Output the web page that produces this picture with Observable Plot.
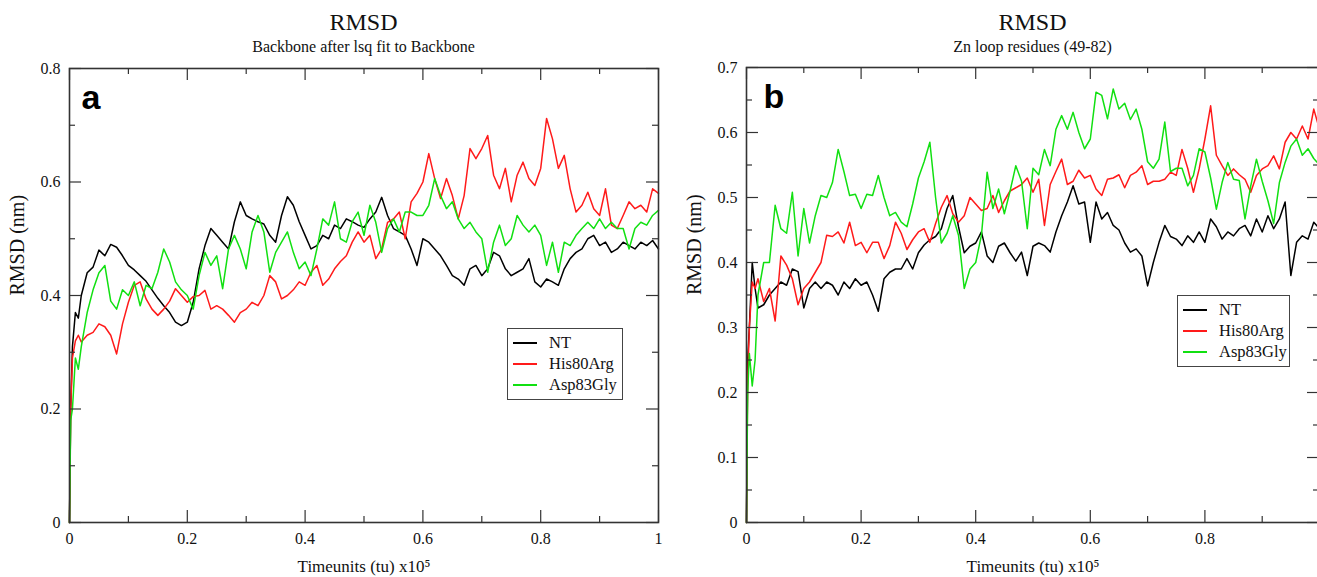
<!DOCTYPE html>
<html><head><meta charset="utf-8">
<script src="https://cdn.jsdelivr.net/npm/d3@7"></script>
<script src="https://cdn.jsdelivr.net/npm/@observablehq/plot@0.6"></script>
<style>
html,body{margin:0;padding:0;background:#fff;overflow:hidden;width:1317px;height:577px}
#root{position:relative;width:1317px;height:577px;overflow:hidden;font-family:"Liberation Serif","Times New Roman",serif;color:#111}
.panel{position:absolute;top:0}
.panel svg{max-width:none !important}
.title{position:absolute;text-align:center;font-size:24px;line-height:24px}
.subtitle{position:absolute;text-align:center;font-size:16px;line-height:16px}
.legend{position:absolute;border:1px solid #444;background:#fff;font-size:16.5px;box-sizing:border-box;padding-top:3px}
.legend .row{position:relative;height:21px;line-height:21px;white-space:nowrap}
.legend .sw{position:absolute;left:5px;top:10px;width:24px;height:0;border-top:2px solid #000}
.legend .lab{position:absolute;left:41px;top:0}
</style></head>
<body><div id="root"></div>
<script>
// time axis (x 10^5 time units)
const times = [0,0.002,0.005,0.01,0.015,
0.02,0.03,0.04,0.05,0.06,0.07,0.08,0.09,
0.10,0.11,0.12,0.13,0.14,0.15,0.16,0.17,0.18,0.19,
0.20,0.21,0.22,0.23,0.24,0.25,0.26,0.27,0.28,0.29,
0.30,0.31,0.32,0.33,0.34,0.35,0.36,0.37,0.38,0.39,
0.40,0.41,0.42,0.43,0.44,0.45,0.46,0.47,0.48,0.49,
0.50,0.51,0.52,0.53,0.54,0.55,0.56,0.57,0.58,0.59,
0.60,0.61,0.62,0.63,0.64,0.65,0.66,0.67,0.68,0.69,
0.70,0.71,0.72,0.73,0.74,0.75,0.76,0.77,0.78,0.79,
0.80,0.81,0.82,0.83,0.84,0.85,0.86,0.87,0.88,0.89,
0.90,0.91,0.92,0.93,0.94,0.95,0.96,0.97,0.98,0.99,1.00];

const seriesNames = ["NT","His80Arg","Asp83Gly"];
const seriesColors = ["#000000","#ff1a1a","#11e011"];

// Panel a: Backbone RMSD (nm)
const aNT = [0,0.2,0.31,0.37,0.36,
0.40,0.44,0.45,0.48,0.47,0.49,0.485,0.47,
0.453,0.445,0.435,0.425,0.41,0.395,0.382,0.37,0.353,0.347,
0.353,0.388,0.447,0.488,0.518,0.506,0.494,0.482,0.53,0.565,
0.541,0.535,0.53,0.526,0.506,0.494,0.541,0.574,0.559,0.53,
0.506,0.482,0.488,0.506,0.5,0.524,0.518,0.535,0.53,0.524,
0.52,0.535,0.547,0.573,0.541,0.518,0.512,0.506,0.482,0.453,
0.5,0.494,0.482,0.47,0.453,0.435,0.429,0.418,0.447,0.453,
0.435,0.447,0.476,0.47,0.447,0.435,0.441,0.447,0.465,0.424,
0.415,0.429,0.424,0.418,0.447,0.465,0.476,0.482,0.5,0.506,
0.488,0.494,0.476,0.482,0.494,0.488,0.482,0.494,0.488,0.497,0.482];
const aHis = [0,0.2,0.29,0.32,0.33,
0.318,0.33,0.335,0.35,0.345,0.33,0.297,0.35,
0.388,0.418,0.424,0.394,0.376,0.365,0.376,0.39,0.412,0.4,
0.388,0.398,0.4,0.409,0.376,0.382,0.376,0.365,0.353,0.37,
0.376,0.388,0.382,0.4,0.435,0.424,0.394,0.4,0.41,0.424,
0.418,0.441,0.453,0.418,0.429,0.447,0.46,0.47,0.494,0.512,
0.494,0.506,0.465,0.482,0.529,0.535,0.547,0.5,0.565,0.58,
0.6,0.65,0.606,0.571,0.606,0.576,0.535,0.576,0.659,0.641,
0.659,0.682,0.612,0.588,0.624,0.565,0.612,0.635,0.606,0.594,
0.624,0.712,0.676,0.624,0.647,0.588,0.547,0.559,0.582,0.553,
0.541,0.588,0.524,0.518,0.541,0.565,0.553,0.559,0.547,0.588,0.58];
const aAsp = [0,0.18,0.2,0.29,0.27,
0.31,0.37,0.41,0.44,0.453,0.39,0.376,0.41,
0.4,0.424,0.382,0.418,0.412,0.441,0.482,0.459,0.424,0.41,
0.4,0.376,0.435,0.476,0.453,0.47,0.412,0.482,0.506,0.482,
0.447,0.512,0.541,0.512,0.441,0.476,0.494,0.512,0.476,0.447,
0.459,0.435,0.482,0.535,0.524,0.565,0.5,0.494,0.53,0.547,
0.506,0.559,0.529,0.476,0.518,0.535,0.512,0.547,0.547,0.541,
0.541,0.559,0.606,0.576,0.553,0.565,0.535,0.518,0.529,0.512,
0.5,0.441,0.494,0.524,0.488,0.5,0.541,0.524,0.512,0.524,
0.506,0.453,0.494,0.441,0.494,0.488,0.506,0.518,0.529,0.518,
0.535,0.518,0.529,0.518,0.518,0.482,0.518,0.529,0.524,0.541,0.55];

// Panel b: Zn loop residues (49-82) RMSD (nm)
const bNT = [0,0.25,0.3,0.4,0.36,
0.33,0.335,0.35,0.36,0.37,0.365,0.39,0.386,
0.33,0.36,0.37,0.36,0.37,0.365,0.35,0.37,0.36,0.375,
0.365,0.37,0.35,0.325,0.375,0.385,0.39,0.39,0.406,0.39,
0.415,0.427,0.435,0.44,0.452,0.483,0.503,0.455,0.415,0.425,
0.43,0.447,0.41,0.4,0.425,0.43,0.415,0.402,0.416,0.38,
0.425,0.43,0.426,0.416,0.447,0.472,0.493,0.518,0.49,0.493,
0.431,0.493,0.467,0.477,0.457,0.45,0.43,0.416,0.421,0.41,
0.364,0.4,0.431,0.457,0.44,0.436,0.426,0.441,0.431,0.447,
0.431,0.467,0.455,0.436,0.447,0.441,0.452,0.457,0.441,0.467,
0.447,0.472,0.452,0.467,0.493,0.38,0.431,0.441,0.436,0.462,0.452];
const bHis = [0,0.22,0.3,0.37,0.36,
0.375,0.34,0.36,0.31,0.41,0.396,0.375,0.335,
0.36,0.37,0.385,0.4,0.442,0.44,0.447,0.43,0.462,0.426,
0.431,0.415,0.431,0.431,0.406,0.426,0.462,0.445,0.42,0.435,
0.447,0.452,0.431,0.46,0.485,0.503,0.475,0.462,0.472,0.5,
0.49,0.48,0.483,0.503,0.477,0.495,0.51,0.515,0.52,0.53,
0.508,0.528,0.457,0.52,0.54,0.559,0.52,0.525,0.542,0.53,
0.534,0.513,0.503,0.528,0.53,0.535,0.515,0.534,0.539,0.549,
0.52,0.525,0.525,0.528,0.539,0.534,0.574,0.545,0.508,0.544,
0.59,0.641,0.565,0.549,0.534,0.544,0.535,0.528,0.508,0.534,
0.544,0.549,0.564,0.544,0.585,0.6,0.59,0.61,0.59,0.636,0.605];
const bAsp = [0,0.2,0.26,0.21,0.25,
0.35,0.4,0.4,0.488,0.452,0.445,0.508,0.41,
0.483,0.43,0.472,0.503,0.5,0.523,0.574,0.54,0.503,0.505,
0.483,0.505,0.503,0.534,0.5,0.472,0.477,0.462,0.455,0.49,
0.53,0.555,0.585,0.5,0.43,0.445,0.472,0.442,0.36,0.39,
0.4,0.442,0.539,0.483,0.513,0.475,0.51,0.549,0.525,0.452,
0.545,0.535,0.574,0.549,0.605,0.626,0.605,0.631,0.6,0.575,
0.59,0.662,0.657,0.621,0.667,0.636,0.645,0.62,0.636,0.605,
0.555,0.545,0.559,0.616,0.54,0.545,0.545,0.518,0.534,0.575,
0.57,0.53,0.482,0.523,0.554,0.528,0.526,0.467,0.518,0.559,
0.525,0.495,0.46,0.523,0.554,0.579,0.59,0.565,0.575,0.56,0.55];

// ticks
const xMajor = [0,0.2,0.4,0.6,0.8,1];
const xMinor = [0.1,0.3,0.5,0.7,0.9];
const xTickLabels = ["0","0.2","0.4","0.6","0.8","1"];
const aXLabeled = [0,0.2,0.4,0.6,0.8,1];
const bXLabeled = [0,0.2,0.4,0.6,0.8];   // the "1" label falls outside the cropped picture
const aYMajor = [0,0.2,0.4,0.6,0.8];
const aYMinor = [0.1,0.3,0.5,0.7];
const aYLabels = ["0","0.2","0.4","0.6","0.8"];
const bYMajor = [0,0.1,0.2,0.3,0.4,0.5,0.6,0.7];
const bYMinor = [0.05,0.15,0.25,0.35,0.45,0.55,0.65];
const bYLabels = ["0","0.1","0.2","0.3","0.4","0.5","0.6","0.7"];

const xLabel = "Timeunits (tu) x10\u2075";
const yLabel = "RMSD (nm)";

function table(cols) {
  const rows = [];
  cols.forEach((vals, k) => vals.forEach((v, i) => rows.push({t: times[i], v, series: seriesNames[k]})));
  return rows;
}

function panel(o) {
  const {width, height, ml, mr, mt, mb} = o;
  const innerW = width - ml - mr, innerH = height - mt - mb;
  const MJ = 12, MN = 6;
  const tk = {stroke: "#333", strokeWidth: 1.2};
  return Plot.plot({
    width, height, marginLeft: ml, marginRight: mr, marginTop: mt, marginBottom: mb,
    style: {fontFamily: '"Liberation Serif", "Times New Roman", serif', fontSize: "16px", color: "#111", background: "transparent", overflow: "visible", maxWidth: "none"},
    x: {domain: [0, 1]},
    y: {domain: o.yDomain},
    color: {domain: seriesNames, range: seriesColors},
    marks: [
      Plot.line(o.data, {x: "t", y: "v", stroke: "series", z: "series", strokeWidth: 1.5}),
      Plot.tickX(xMajor, {...tk, insetTop: innerH - MJ}),
      Plot.tickX(xMajor, {...tk, insetBottom: innerH - MJ}),
      Plot.tickX(xMinor, {...tk, insetTop: innerH - MN}),
      Plot.tickX(xMinor, {...tk, insetBottom: innerH - MN}),
      Plot.tickY(o.yMajor, {...tk, insetRight: innerW - MJ}),
      Plot.tickY(o.yMajor, {...tk, insetLeft: innerW - MJ}),
      Plot.tickY(o.yMinor, {...tk, insetRight: innerW - MN}),
      Plot.tickY(o.yMinor, {...tk, insetLeft: innerW - MN}),
      Plot.frame({stroke: "#333", strokeWidth: 1.6}),
      Plot.axisX({ticks: o.xLabeled, tickSize: 0, tickPadding: 10, tickFormat: d => xTickLabels[xMajor.indexOf(d)],
        label: null, fontSize: 16}),
      Plot.axisY({ticks: o.yMajor, tickSize: 0, tickPadding: 9, tickFormat: d => o.yLabels[o.yMajor.indexOf(d)],
        label: null, fontSize: 16}),
      Plot.text([xLabel], {frameAnchor: "bottom", dy: 49, lineAnchor: "bottom", fontSize: 17, fill: "#111"}),
      Plot.text([yLabel], {frameAnchor: "left", dx: -52, rotate: -90, fontSize: 20, fill: "#111"}),
      Plot.text([o.letter], {frameAnchor: "top-left", dx: o.letterDx, dy: 40, textAnchor: "start", lineAnchor: "bottom",
        fontFamily: '"Liberation Sans", Arial, sans-serif', fontWeight: "bold", fontSize: 34, fill: "#000"})
    ]
  });
}

const root = document.getElementById("root");

function addPanel(cfg) {
  const div = document.createElement("div");
  div.className = "panel";
  div.style.left = cfg.left + "px";
  div.style.width = cfg.width + "px";
  div.appendChild(panel(cfg));
  root.appendChild(div);
  const fl = cfg.left + cfg.ml, fw = cfg.width - cfg.ml - cfg.mr;
  const t = document.createElement("div");
  t.className = "title"; t.textContent = cfg.title;
  t.style.left = fl + "px"; t.style.width = fw + "px"; t.style.top = "10px";
  root.appendChild(t);
  const s = document.createElement("div");
  s.className = "subtitle"; s.textContent = cfg.subtitle;
  s.style.left = fl + "px"; s.style.width = fw + "px"; s.style.top = "39px";
  root.appendChild(s);
  const lg = document.createElement("div");
  lg.className = "legend";
  lg.style.left = cfg.legend[0] + "px"; lg.style.top = cfg.legend[1] + "px";
  lg.style.width = cfg.legend[2] + "px"; lg.style.height = cfg.legend[3] + "px";
  seriesNames.forEach((n, i) => {
    const r = document.createElement("div"); r.className = "row";
    const sw = document.createElement("div"); sw.className = "sw"; sw.style.borderTopColor = seriesColors[i];
    const lb = document.createElement("div"); lb.className = "lab"; lb.textContent = n;
    r.appendChild(sw); r.appendChild(lb); lg.appendChild(r);
  });
  root.appendChild(lg);
}

addPanel({left: 0, width: 680, height: 577, ml: 69, mr: 22, mt: 68, mb: 55,
  yDomain: [0, 0.8], yMajor: aYMajor, yMinor: aYMinor, yLabels: aYLabels, xLabeled: aXLabeled,
  data: table([aNT, aHis, aAsp]), letter: "a", letterDx: 12,
  title: "RMSD", subtitle: "Backbone after lsq fit to Backbone", legend: [507, 328, 116, 72]});

addPanel({left: 676, width: 680, height: 577, ml: 70, mr: 37, mt: 67, mb: 55,
  yDomain: [0, 0.7], yMajor: bYMajor, yMinor: bYMinor, yLabels: bYLabels, xLabeled: bXLabeled,
  data: table([bNT, bHis, bAsp]), letter: "b", letterDx: 17,
  title: "RMSD", subtitle: "Zn loop residues (49-82)", legend: [1177, 295, 113, 72]});
</script>
</body></html>
